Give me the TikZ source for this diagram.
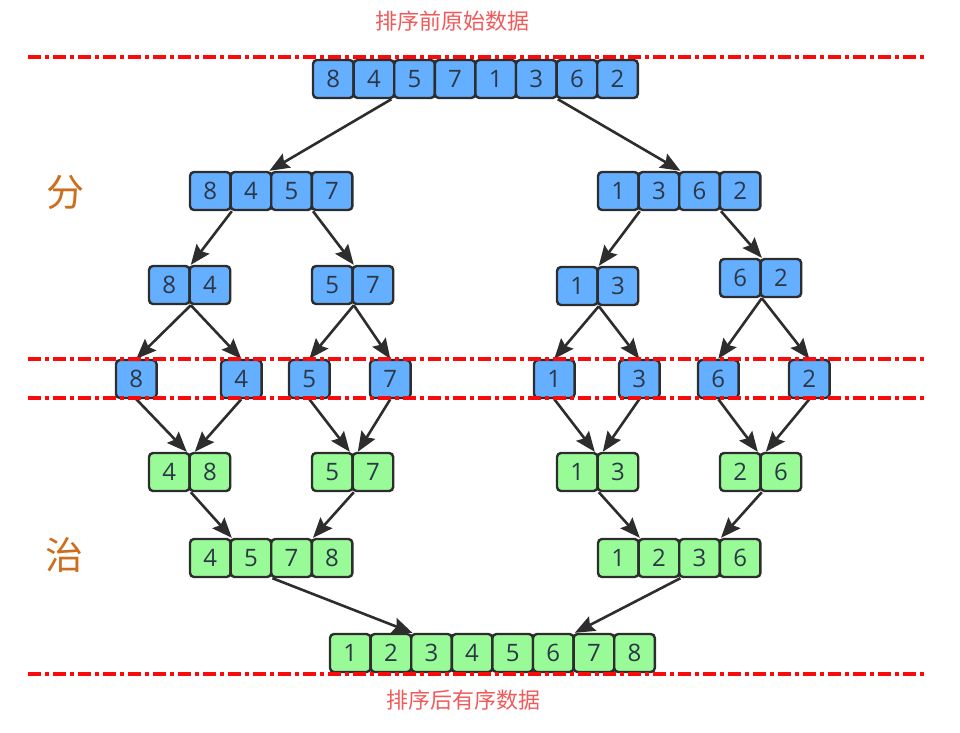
\documentclass[tikz,border=0pt]{standalone}
\usepackage{fontspec}
\setmainfont{Open Sans}
\newfontfamily\cjk{Noto Sans CJK SC}
\usetikzlibrary{arrows.meta}
\definecolor{cellblue}{RGB}{100,175,255}
\definecolor{cellgreen}{RGB}{152,251,152}
\definecolor{edgegray}{RGB}{45,45,45}
\definecolor{digitgray}{RGB}{45,55,70}
\definecolor{labelred}{RGB}{240,90,90}
\definecolor{sideorange}{RGB}{205,110,30}
\definecolor{lineRed}{RGB}{250,10,10}
\tikzset{
  cellbox/.style={draw=edgegray, line width=2.4pt, rounded corners=4pt, minimum width=40.6pt, minimum height=38pt, inner sep=0pt, text=digitgray, font=\fontsize{24}{24}\selectfont},
  blue/.style={fill=cellblue},
  green/.style={fill=cellgreen},
  arr/.style={draw=edgegray, line width=2.6pt, arrows={-Stealth[length=20pt,width=16pt,inset=3pt]}},
  sepline/.style={draw=lineRed, line width=3.2pt, dash pattern=on 13pt off 4pt on 4pt off 4pt},
  toplabel/.style={text=labelred, font=\cjk\fontsize{22}{22}\selectfont},
  sidelabel/.style={text=sideorange, font=\cjk\fontsize{38}{38}\selectfont}
}
\newcommand\cellrow[5]{%
  \foreach \v [count=\i] in {#5} {
    \node[cellbox,#4] (#1-\i) at ({#2+20.3+(\i-1)*40.6},{#3+19}) {\v};
  }}
\begin{document}
\begin{tikzpicture}[x=1pt,y=-1pt]
\useasboundingbox (0,0) rectangle (960,732);
% labels
\node[toplabel] (lbltop) at (452,21) {排序前原始数据};
\node[toplabel] (lblbot) at (463,700) {排序后有序数据};
\node[sidelabel] (fen) at (65,192) {分};
\node[sidelabel] (zhi) at (64,555) {治};
% rows
\cellrow{top}{313}{60}{blue}{8,4,5,7,1,3,6,2}
\cellrow{L}{190}{172}{blue}{8,4,5,7}
\cellrow{R}{598}{172}{blue}{1,3,6,2}
\cellrow{LL}{149}{266}{blue}{8,4}
\cellrow{LR}{312}{266}{blue}{5,7}
\cellrow{RL}{557}{267}{blue}{1,3}
\cellrow{RR}{720}{259}{blue}{6,2}
\cellrow{sa}{116}{360}{blue}{8}
\cellrow{sb}{221}{360}{blue}{4}
\cellrow{sc}{289}{360}{blue}{5}
\cellrow{sd}{370}{360}{blue}{7}
\cellrow{se}{534}{360}{blue}{1}
\cellrow{sf}{619}{360}{blue}{3}
\cellrow{sg}{698}{360}{blue}{6}
\cellrow{sh}{789}{360}{blue}{2}
\cellrow{ga}{149}{453}{green}{4,8}
\cellrow{gb}{312}{453}{green}{5,7}
\cellrow{gc}{557}{453}{green}{1,3}
\cellrow{gd}{720}{453}{green}{2,6}
\cellrow{GL}{190}{539}{green}{4,5,7,8}
\cellrow{GR}{598}{539}{green}{1,2,3,6}
\cellrow{F}{330}{634}{green}{1,2,3,4,5,6,7,8}
% arrows: divide
\draw[arr] ([xshift=-4pt]top-2.south east) -- ([xshift=-3pt]L-2.north east);
\draw[arr] (top-6.south east) -- (R-2.north east);
\draw[arr] (L-1.south east) -- (LL-1.north east);
\draw[arr] (L-3.south east) -- (LR-1.north east);
\draw[arr] (R-1.south east) -- (RL-1.north east);
\draw[arr] (R-3.south east) -- (RR-1.north east);
\draw[arr] (LL-1.south east) -- (sa-1.north);
\draw[arr] (LL-1.south east) -- (sb-1.north);
\draw[arr] (LR-1.south east) -- (sc-1.north);
\draw[arr] (LR-1.south east) -- (sd-1.north);
\draw[arr] (RL-1.south east) -- (se-1.north);
\draw[arr] (RL-1.south east) -- (sf-1.north);
\draw[arr] (RR-1.south east) -- (sg-1.north);
\draw[arr] (RR-1.south east) -- (sh-1.north);
% arrows: conquer
\draw[arr] (sa-1.south) -- ([xshift=-4pt]ga-1.north east);
\draw[arr] (sb-1.south) -- ([xshift=4pt]ga-1.north east);
\draw[arr] (sc-1.south) -- ([xshift=-4pt]gb-1.north east);
\draw[arr] (sd-1.south) -- ([xshift=4pt]gb-1.north east);
\draw[arr] (se-1.south) -- ([xshift=-4pt]gc-1.north east);
\draw[arr] (sf-1.south) -- ([xshift=4pt]gc-1.north east);
\draw[arr] (sg-1.south) -- ([xshift=-4pt]gd-1.north east);
\draw[arr] (sh-1.south) -- ([xshift=4pt]gd-1.north east);
\draw[arr] (ga-1.south east) -- (GL-1.north east);
\draw[arr] (gb-1.south east) -- (GL-3.north east);
\draw[arr] (gc-1.south east) -- (GR-1.north east);
\draw[arr] (gd-1.south east) -- (GR-3.north east);
\draw[arr] (GL-2.south east) -- (F-2.north east);
\draw[arr] (GR-2.south east) -- (F-6.north east);
% separator lines
\coordinate (d1a) at (28,57);  \coordinate (d1b) at (926,57);
\coordinate (d2a) at (28,359); \coordinate (d2b) at (926,359);
\coordinate (d3a) at (28,398); \coordinate (d3b) at (926,398);
\coordinate (d4a) at (28,674); \coordinate (d4b) at (926,674);
\draw[sepline] (d1a) -- (d1b);
\draw[sepline] (d2a) -- (d2b);
\draw[sepline] (d3a) -- (d3b);
\draw[sepline] (d4a) -- (d4b);
\end{tikzpicture}
\end{document}
